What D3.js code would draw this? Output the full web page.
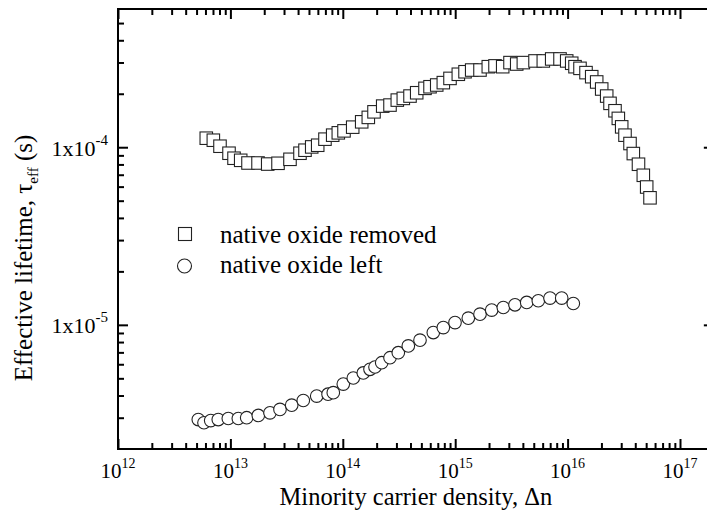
<!DOCTYPE html>
<html><head><meta charset="utf-8">
<script src="https://cdn.jsdelivr.net/npm/d3@7"></script>
<style>
body{margin:0;background:#fff}
svg{display:block}
text{font-family:"Liberation Serif","Times New Roman",serif;fill:#000}
</style>
</head><body>
<svg id="chart" width="707" height="510"></svg>
<script>
// ---- data ----
const removedN = [6.10e12,7.05e12,8.08e12,9.72e12,1.077e13,1.235e13,1.434e13,1.761e13,2.148e13,2.652e13,
  3.39e13,4.16e13,4.61e13,5.29e13,5.98e13,6.94e13,8.13e13,9.12e13,1.025e14,1.225e14,
  1.473e14,1.686e14,1.895e14,2.265e14,2.63e14,3.054e14,3.454e14,3.962e14,4.545e14,5.386e14,
  5.97e14,6.85e14,7.84e14,8.99e14,1.066e15,1.223e15,1.402e15,1.662e15,1.97e15,2.26e15,
  2.646e15,3.073e15,3.526e15,4.04e15,5.13e15,6.08e15,7.22e15,8.56e15,9.82e15,1.088e16,
  1.164e16,1.289e16,1.458e16,1.639e16,1.815e16,2.011e16,2.228e16,2.384e16,2.641e16,2.827e16,
  3.029e16,3.241e16,3.591e16,3.843e16,4.273e16,4.716e16,5.054e16,5.41e16];
const removedTau = [1.124e-4,1.095e-4,1.013e-4,9.25e-5,8.67e-5,8.44e-5,8.15e-5,8.15e-5,8.04e-5,8.12e-5,
  8.55e-5,9.25e-5,9.62e-5,1.004e-4,1.026e-4,1.110e-4,1.169e-4,1.205e-4,1.236e-4,1.297e-4,
  1.390e-4,1.472e-4,1.582e-4,1.704e-4,1.727e-4,1.842e-4,1.883e-4,1.941e-4,2.026e-4,2.145e-4,
  2.19e-4,2.24e-4,2.31e-4,2.44e-4,2.575e-4,2.66e-4,2.72e-4,2.72e-4,2.84e-4,2.87e-4,
  2.84e-4,2.995e-4,2.94e-4,2.995e-4,3.06e-4,3.06e-4,3.14e-4,3.14e-4,3.06e-4,2.97e-4,
  2.84e-4,2.78e-4,2.63e-4,2.495e-4,2.33e-4,2.127e-4,1.941e-4,1.766e-4,1.604e-4,1.453e-4,
  1.302e-4,1.169e-4,1.049e-4,9.21e-5,8.02e-5,6.95e-5,5.97e-5,5.19e-5];
const leftN = [5.18e12,5.82e12,6.68e12,7.80e12,9.58e12,1.176e13,1.396e13,1.771e13,2.25e13,2.762e13,
  3.51e13,4.45e13,5.86e13,7.39e13,8.23e13,1.010e14,1.240e14,1.522e14,1.746e14,1.934e14,
  2.219e14,2.63e14,3.117e14,3.826e14,4.862e14,6.386e14,7.84e14,9.96e14,1.308e15,1.662e15,
  2.112e15,2.679e15,3.404e15,4.327e15,5.487e15,6.973e15,8.862e15,1.124e16];
const leftTau = [2.93e-6,2.81e-6,2.89e-6,2.93e-6,2.97e-6,2.97e-6,3.00e-6,3.09e-6,3.195e-6,3.34e-6,
  3.53e-6,3.75e-6,3.97e-6,4.07e-6,4.15e-6,4.64e-6,5.02e-6,5.36e-6,5.62e-6,5.79e-6,
  6.12e-6,6.53e-6,6.97e-6,7.61e-6,8.20e-6,9.05e-6,9.65e-6,1.030e-5,1.091e-5,1.149e-5,
  1.211e-5,1.252e-5,1.297e-5,1.337e-5,1.367e-5,1.415e-5,1.415e-5,1.319e-5];
const seriesNames = ["native oxide removed","native oxide left"];
const xMajorTicks = [1e12,1e13,1e14,1e15,1e16,1e17];
const xTickBase = "10";
const xTickExponents = ["12","13","14","15","16","17"];
const yMajorTicks = [1e-5,1e-4];
const yTickBase = ["1x10","1x10"];
const yTickExponents = ["-5","-4"];
const xTitle = "Minority carrier density, Δn";
const yTitleMain = "Effective lifetime, τ";
const yTitleSub = "eff";
const yTitleEnd = " (s)";

// ---- layout ----
const W = 707, H = 510;
const L = 118, T = 9, B = 449;
const x = d3.scaleLog().domain([1e12, 2e17]).range([L, L + Math.log10(2e17/1e12) * 112.4]);
const y = d3.scaleLog().domain([2e-6, 6e-4]).range([B, T]);
const R = x.range()[1];

const svg = d3.select("#chart");

// minor ticks
const xMinor = [];
for (let d = 12; d <= 16; d++) for (let m = 2; m <= 9; m++) xMinor.push(m * Math.pow(10, d));
const yMinor = [];
for (let d = -6; d <= -4; d++) for (let m = 2; m <= 9; m++) { const v = m * Math.pow(10, d); if (v < 6e-4 && v > 2e-6) yMinor.push(v); }

function styleAxis(g) {
  g.select(".domain").remove();
  g.selectAll("line").attr("stroke", "#000").attr("stroke-width", 2);
  g.selectAll("text").remove();
}
// bottom / top
svg.append("g").attr("transform", `translate(0,${B})`).call(d3.axisBottom(x).tickValues(xMinor).tickSize(-6).tickFormat("")).call(styleAxis);
svg.append("g").attr("transform", `translate(0,${B})`).call(d3.axisBottom(x).tickValues(xMajorTicks).tickSize(-10).tickFormat("")).call(styleAxis);
svg.append("g").attr("transform", `translate(0,${T})`).call(d3.axisTop(x).tickValues(xMinor).tickSize(-6).tickFormat("")).call(styleAxis);
svg.append("g").attr("transform", `translate(0,${T})`).call(d3.axisTop(x).tickValues(xMajorTicks).tickSize(-10).tickFormat("")).call(styleAxis);
// left / right
svg.append("g").attr("transform", `translate(${L},0)`).call(d3.axisLeft(y).tickValues(yMinor).tickSize(-6).tickFormat("")).call(styleAxis);
svg.append("g").attr("transform", `translate(${L},0)`).call(d3.axisLeft(y).tickValues(yMajorTicks).tickSize(-10).tickFormat("")).call(styleAxis);
svg.append("g").attr("transform", `translate(${R},0)`).call(d3.axisRight(y).tickValues(yMinor).tickSize(-6).tickFormat("")).call(styleAxis);
svg.append("g").attr("transform", `translate(${R},0)`).call(d3.axisRight(y).tickValues(yMajorTicks).tickSize(-10).tickFormat("")).call(styleAxis);

// frame
svg.append("rect").attr("x", L).attr("y", T).attr("width", R - L).attr("height", B - T)
  .attr("fill", "none").attr("stroke", "#000").attr("stroke-width", 2);

// x tick labels
const xl = svg.append("g");
xMajorTicks.forEach((v, i) => {
  const t = xl.append("text").attr("x", x(v)).attr("y", 478).attr("text-anchor", "middle").style("font-size", "21px");
  t.append("tspan").text(xTickBase);
  t.append("tspan").attr("dy", -10).style("font-size", "14px").text(xTickExponents[i]);
});
// y tick labels
const yl = svg.append("g");
yMajorTicks.forEach((v, i) => {
  const t = yl.append("text").attr("x", 108).attr("y", y(v) + 8.5).attr("text-anchor", "end").style("font-size", "22px");
  t.append("tspan").text(yTickBase[i]);
  t.append("tspan").attr("dy", -11).style("font-size", "15px").text(yTickExponents[i]);
});

// titles
svg.append("text").attr("x", (L + R) / 2).attr("y", 505).attr("text-anchor", "middle").style("font-size", "24.5px").text(xTitle);
const yt = svg.append("text").attr("transform", `translate(32,258) rotate(-90)`).attr("text-anchor", "middle").style("font-size", "25px");
yt.append("tspan").text(yTitleMain);
yt.append("tspan").attr("dy", 6).style("font-size", "15px").text(yTitleSub);
yt.append("tspan").attr("dy", -6).text(yTitleEnd);

// data
const sq = 12.5;
svg.append("g").selectAll("rect").data(removedN.map((n, i) => [n, removedTau[i]])).join("rect")
  .attr("x", d => x(d[0]) - sq / 2).attr("y", d => y(d[1]) - sq / 2).attr("width", sq).attr("height", sq)
  .attr("fill", "#fff").attr("stroke", "#222").attr("stroke-width", 1.1);
svg.append("g").selectAll("circle").data(leftN.map((n, i) => [n, leftTau[i]])).join("circle")
  .attr("cx", d => x(d[0])).attr("cy", d => y(d[1])).attr("r", 6.3)
  .attr("fill", "#fff").attr("stroke", "#222").attr("stroke-width", 1.1);

// legend
const lg = svg.append("g");
lg.append("rect").attr("x", 185 - 6.5).attr("y", 234 - 6.5).attr("width", 13).attr("height", 13)
  .attr("fill", "#fff").attr("stroke", "#222").attr("stroke-width", 1.1);
lg.append("circle").attr("cx", 184.5).attr("cy", 266).attr("r", 7)
  .attr("fill", "#fff").attr("stroke", "#222").attr("stroke-width", 1.1);
lg.append("text").attr("x", 220).attr("y", 243).style("font-size", "25px").text(seriesNames[0]);
lg.append("text").attr("x", 220).attr("y", 273).style("font-size", "25px").text(seriesNames[1]);
</script>
</body></html>
